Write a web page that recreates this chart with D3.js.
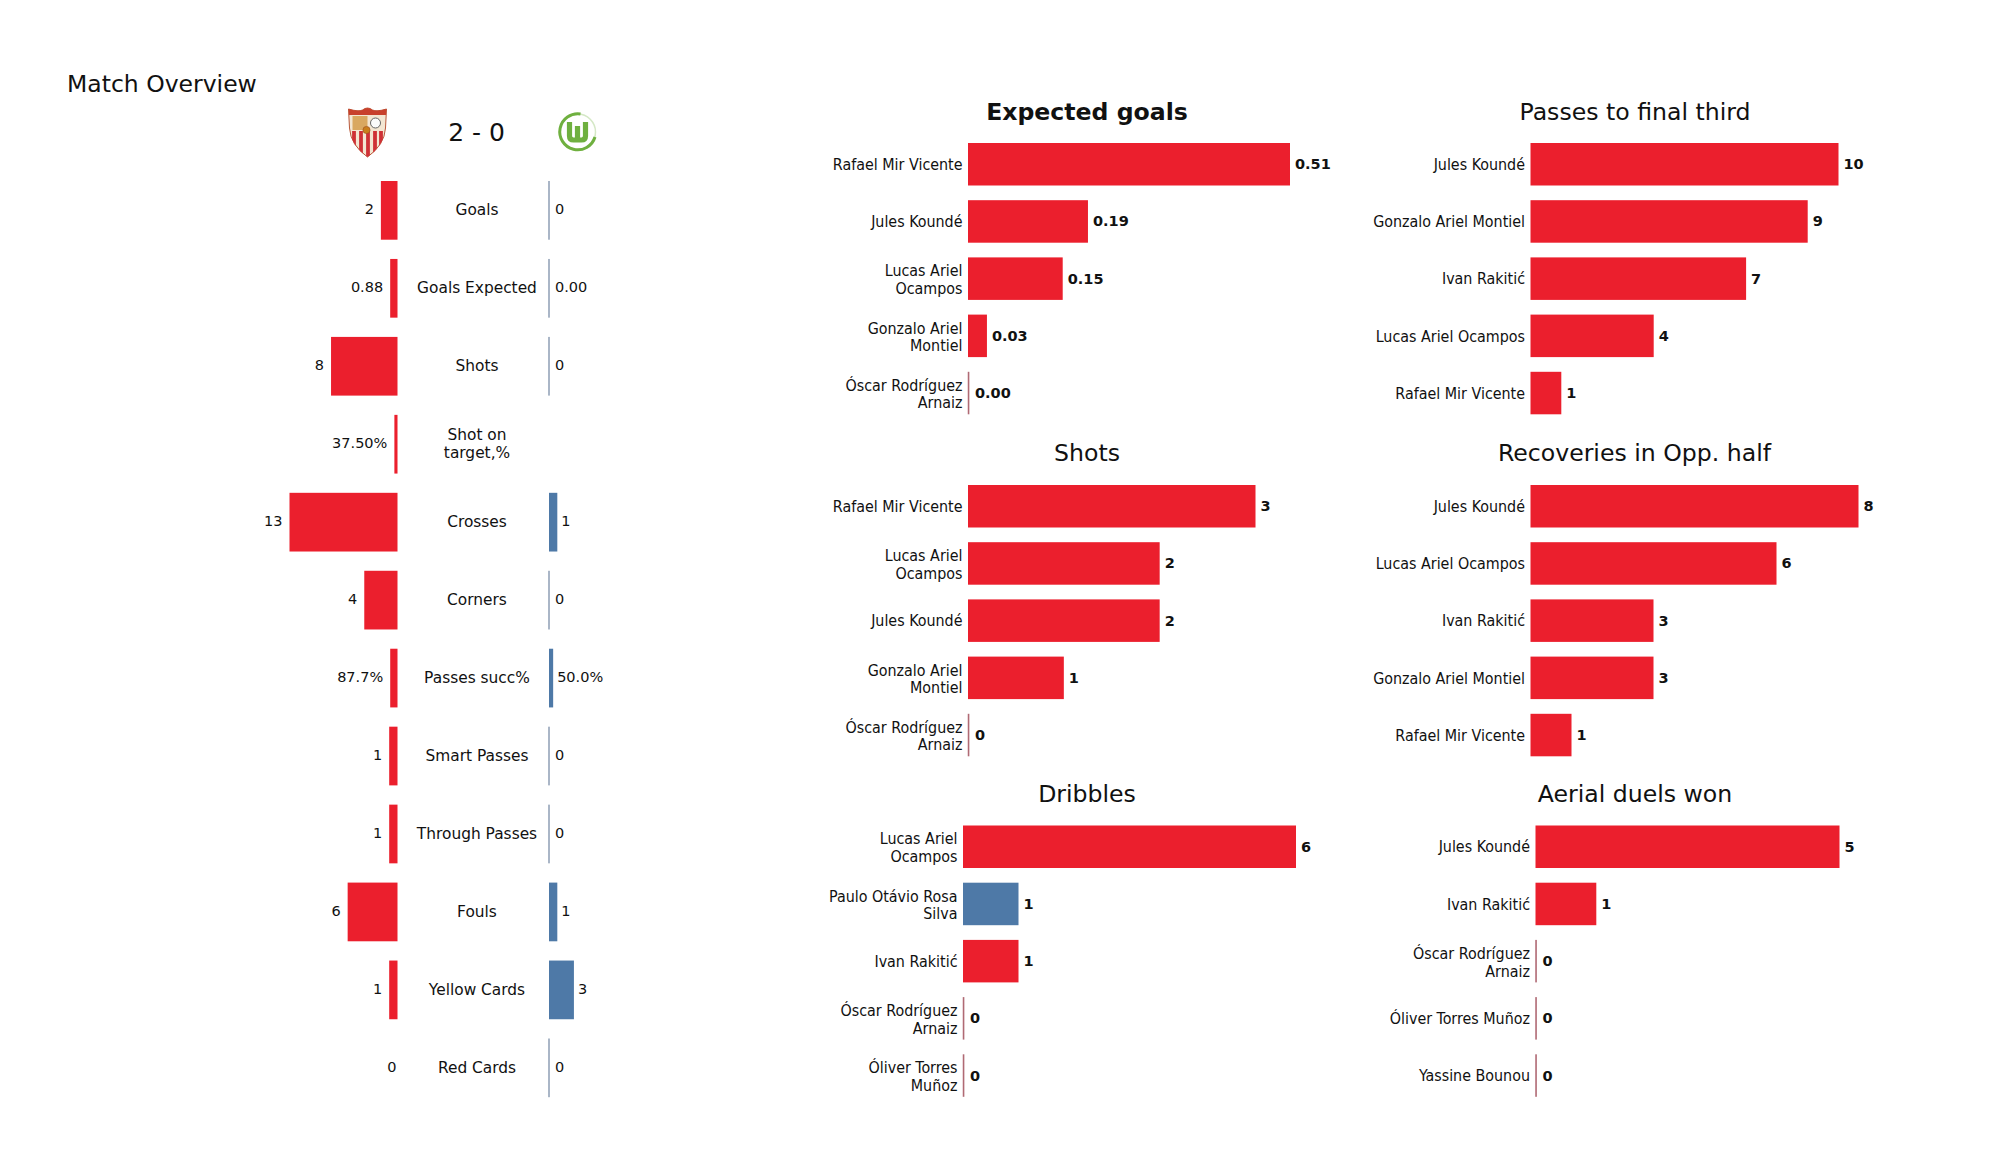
<!DOCTYPE html>
<html><head><meta charset="utf-8">
<script src="https://cdn.jsdelivr.net/npm/d3@7"></script>
<style>html,body{margin:0;padding:0;background:#fff}svg{display:block}text{font-family:"DejaVu Sans";fill:#111}.name{font-stretch:condensed}</style>
</head><body><svg id="c" width="2000" height="1175"></svg>
<script>
const RED="#EB1F2D", BLUE="#4E79A7";
const overviewCategories=["Goals","Goals Expected","Shots","Shot on\ntarget,%","Crosses","Corners","Passes succ%","Smart Passes","Through Passes","Fouls","Yellow Cards","Red Cards"];
const homeValues=[2,0.88,8,0.375,13,4,0.877,1,1,6,1,0];
const awayValues=[0,0,0,null,1,0,0.5,0,0,1,3,0];
const homeLabels=["2","0.88","8","37.50%","13","4","87.7%","1","1","6","1","0"];
const awayLabels=["0","0.00","0","","1","0","50.0%","0","0","1","3","0"];

const xgPlayers=["Rafael Mir Vicente","Jules Koundé","Lucas Ariel\nOcampos","Gonzalo Ariel\nMontiel","Óscar Rodríguez\nArnaiz"];
const xgValues=[0.51,0.19,0.15,0.03,0.00];
const finalThirdPlayers=["Jules Koundé","Gonzalo Ariel Montiel","Ivan Rakitić","Lucas Ariel Ocampos","Rafael Mir Vicente"];
const finalThirdValues=[10,9,7,4,1];
const shotPlayers=["Rafael Mir Vicente","Lucas Ariel\nOcampos","Jules Koundé","Gonzalo Ariel\nMontiel","Óscar Rodríguez\nArnaiz"];
const shotValues=[3,2,2,1,0];
const recoveryPlayers=["Jules Koundé","Lucas Ariel Ocampos","Ivan Rakitić","Gonzalo Ariel Montiel","Rafael Mir Vicente"];
const recoveryValues=[8,6,3,3,1];
const dribblePlayers=["Lucas Ariel\nOcampos","Paulo Otávio Rosa\nSilva","Ivan Rakitić","Óscar Rodríguez\nArnaiz","Óliver Torres\nMuñoz"];
const dribbleValues=[6,1,1,0,0];
const dribbleTeams=["h","a","h","h","h"];
const aerialPlayers=["Jules Koundé","Ivan Rakitić","Óscar Rodríguez\nArnaiz","Óliver Torres Muñoz","Yassine Bounou"];
const aerialValues=[5,1,0,0,0];

const svg=d3.select("#c");
function multi(g,str,x,y,size,anchor,lh){
  const lines=str.split("\n");
  const t=g.append("text").attr("text-anchor",anchor).attr("font-size",size);
  const off=lines.length===1&&anchor==="end"?-0.8:0;
  lines.forEach((l,i)=>t.append("tspan").attr("x",x).attr("y",y+off+(i-(lines.length-1)/2)*lh+size*0.36).text(l));
  return t;
}
svg.append("text").attr("x",67).attr("y",92).attr("font-size",23.5).text("Match Overview");
svg.append("text").attr("x",476.5).attr("y",141).attr("text-anchor","middle").attr("font-size",25).text("2 - 0");

// Sevilla crest
const defs=svg.append("defs");
const shield="M-19,-23 Q-9,-20 -5,-22 Q0,-26 5,-22 Q9,-20 19,-23 L18,-4 Q17,13 0,25 Q-17,13 -18,-4 Z";
defs.append("clipPath").attr("id","sh").append("path").attr("d",shield);
const cr=svg.append("g").attr("transform","translate(367.5,132)");
cr.append("path").attr("d",shield).attr("fill","#f3e6d2").attr("stroke","#b9583a").attr("stroke-width",1);
const body=cr.append("g").attr("clip-path","url(#sh)");
body.append("rect").attr("x",-20).attr("y",-26).attr("width",40).attr("height",9).attr("fill","#c8402c");
[-13.5,-6.5,0.5,7.5,13.5].forEach(x=>body.append("rect").attr("x",x-1.9).attr("y",-1).attr("width",3.8).attr("height",28).attr("fill","#cf3136"));
body.append("rect").attr("x",-15).attr("y",-16).attr("width",15).attr("height",14).attr("fill","#d9a860");
cr.append("circle").attr("cx",8).attr("cy",-9).attr("r",5).attr("fill","#fbfbfb").attr("stroke","#666").attr("stroke-width",1);
cr.append("circle").attr("cx",-1).attr("cy",-2).attr("r",3.6).attr("fill","#c97f1c").attr("stroke","#9a4a1c").attr("stroke-width",.6);
// Wolfsburg crest
const wf=svg.append("g").attr("transform","translate(577.5,132)");
wf.append("circle").attr("r",18).attr("fill","none").attr("stroke","#d5e8c6").attr("stroke-width",1.5);
wf.append("path").attr("d","M3,-18 A18,18 0 1 0 17.5,5").attr("fill","none").attr("stroke","#6fb03f").attr("stroke-width",3);
wf.append("path").attr("d","M-8,-10 L-8,4 Q-8,8 -4,8 L4,8 Q8,8 8,4 L8,-10 M0,-6 L0,7").attr("fill","none").attr("stroke","#6fb03f").attr("stroke-width",5.2);

// overview
const unit=d3.scaleLinear().domain([0,13]).range([0,108]);
const rowY=d3.scaleBand().domain(overviewCategories).range([181,1097.2]).paddingInner(0.247).paddingOuter(0);
const ov=svg.append("g");
const L0=397.5,R0=549;
overviewCategories.forEach((c,i)=>{
  const y=rowY(c),h=rowY.bandwidth(),cy=y+h/2;
  multi(ov,c,477,cy-0.7,15.4,"middle",18.5);
  const hv=homeValues[i],av=awayValues[i];
  if(hv>0) ov.append("rect").attr("x",L0-unit(hv)).attr("y",y).attr("width",unit(hv)).attr("height",h).attr("fill",RED);
  ov.append("text").attr("x",hv>0?L0-unit(hv)-7:L0-1).attr("y",cy+4).attr("text-anchor","end").attr("font-size",14.5).text(homeLabels[i]);
  if(av!==null){
    if(av>0) ov.append("rect").attr("x",R0).attr("y",y).attr("width",unit(av)).attr("height",h).attr("fill",BLUE);
    else ov.append("rect").attr("x",R0-0.75).attr("y",y).attr("width",1.5).attr("height",h).attr("fill","#8e9fb5");
    ov.append("text").attr("x",R0+unit(av)+(av>0?4:6)).attr("y",cy+4).attr("font-size",14.5).text(awayLabels[i]);
  }
});

function panel(title,bold,cx,titleY,players,values,x0,xMax,top,fmt,teams){
  const g=svg.append("g");
  g.append("text").attr("x",cx).attr("y",titleY).attr("text-anchor","middle").attr("font-size",bold?23.6:23.6).attr("font-weight",bold?"bold":"normal").text(title);
  const y=d3.scaleBand().domain(d3.range(players.length)).range([top,top+5*57.2-14.7]).paddingInner(14.7/57.2).paddingOuter(0);
  const x=d3.scaleLinear().domain([0,d3.max(values)]).range([x0,xMax]);
  players.forEach((p,i)=>{
    const yy=y(i),h=y.bandwidth(),cy=yy+h/2;
    const col=teams&&teams[i]==="a"?BLUE:RED;
    if(values[i]>0) g.append("rect").attr("x",x(0)).attr("y",yy).attr("width",x(values[i])-x(0)).attr("height",h).attr("fill",col);
    else g.append("rect").attr("x",x(0)-0.25).attr("y",yy).attr("width",1.6).attr("height",h).attr("fill","#b06a74");
    multi(g,p,x0-5.5,cy+0.8,15.9,"end",17.7).attr("class","name");
    g.append("text").attr("x",x(values[i])+(values[i]>0?5:7)).attr("y",cy+5).attr("font-size",14.5).attr("font-weight","bold").text(fmt(values[i]));
  });
}
const f2=d3.format(".2f"),f0=d3.format("d");
panel("Expected goals",true,1087,120,xgPlayers,xgValues,968,1290,143,f2);
panel("Passes to final third",false,1635,120,finalThirdPlayers,finalThirdValues,1530.5,1838.5,143,f0);
panel("Shots",false,1087,461,shotPlayers,shotValues,968,1255.5,485,f0);
panel("Recoveries in Opp. half",false,1634.5,461,recoveryPlayers,recoveryValues,1530.5,1858.5,485,f0);
panel("Dribbles",false,1087,802,dribblePlayers,dribbleValues,963,1296,825.5,f0,dribbleTeams);
panel("Aerial duels won",false,1635,802,aerialPlayers,aerialValues,1535.5,1839.5,825.5,f0);
</script></body></html>
